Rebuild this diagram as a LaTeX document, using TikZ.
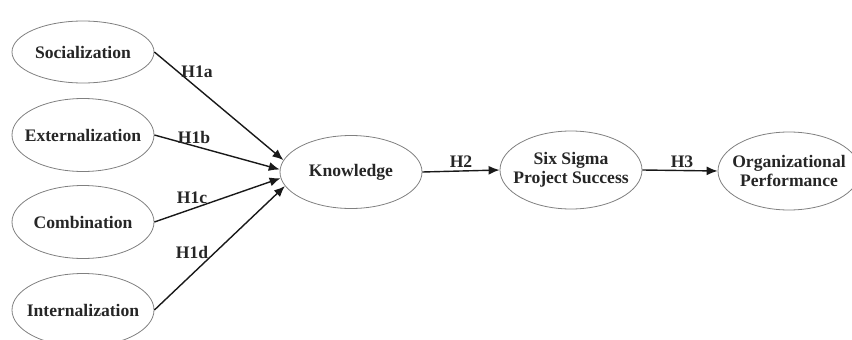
\documentclass[tikz,border=0pt]{standalone}
\usepackage{fontspec}
\setmainfont{Liberation Serif}
\usetikzlibrary{arrows.meta,shapes.geometric}
\begin{document}
\begin{tikzpicture}[x=1pt,y=-1pt,every node/.style={font=\bfseries\fontsize{17.6pt}{19pt}\selectfont,text=black!85,align=center},
  oval/.style={draw=black!50,line width=0.8pt,ellipse,minimum width=142pt,minimum height=73pt,inner xsep=-25pt,inner ysep=0pt},
  link/.style={draw=black!90,line width=1.4pt,-{Latex[length=11pt,width=9pt]}}]
\useasboundingbox (0,0) rectangle (852,340);
\node[oval,minimum height=62pt] (soc) at (83,52) {Socialization};
\node[oval] (ext) at (83,135) {Externalization};
\node[oval] (comb) at (83,222) {Combination};
\node[oval] (int) at (83,310) {Internalization};
\node[oval] (know) at (351,172) {Knowledge};
\node[oval,minimum height=78pt] (six) at (571,170) {Six Sigma\\Project Success};
\node[oval,minimum height=78pt] (org) at (789,171) {Organizational\\Performance};
\draw[link] (soc.east) -- (know.170);
\draw[link] (ext.east) -- (know.178);
\draw[link] (comb.east) -- (know.185);
\draw[link] (int.east) -- (know.192);
\draw[link] (know.east) -- (six.west);
\draw[link] (six.east) -- (org.west);
\node (h1a) at (197,72) {H1a};
\node (h1b) at (194,137) {H1b};
\node (h1c) at (192,198) {H1c};
\node (h1d) at (192,252) {H1d};
\node (h2) at (461,162) {H2};
\node (h3) at (682,162) {H3};
\end{tikzpicture}
\end{document}
